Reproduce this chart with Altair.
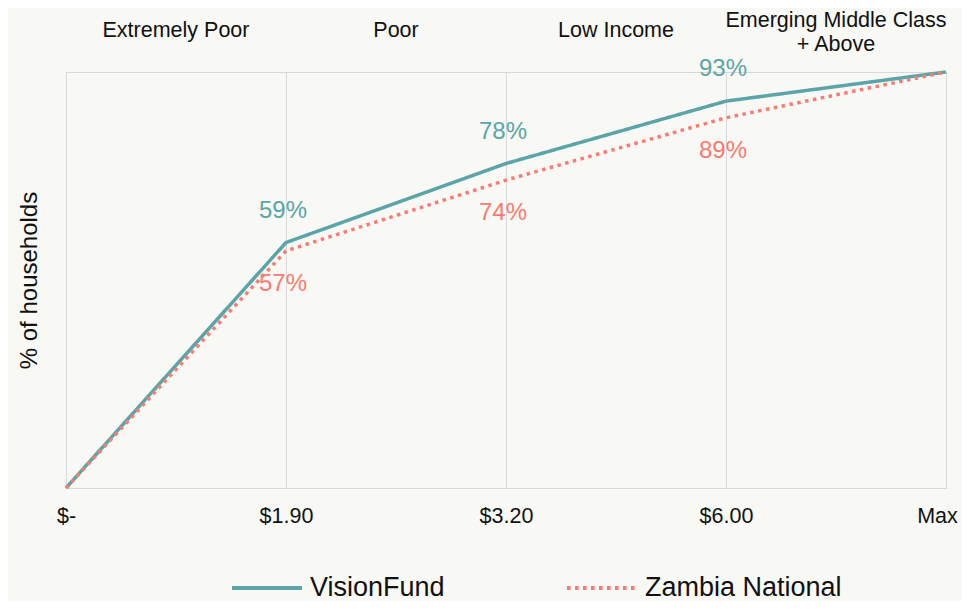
import altair as alt
import pandas as pd

tick_labels = ["$-", "$1.90", "$3.20", "$6.00", "Max"]
visionfund = [0.0, 0.59, 0.78, 0.93, 1.0]
zambia = [0.0, 0.57, 0.74, 0.89, 1.0]
band_labels = ["Extremely Poor", "Poor", "Low Income", "Emerging Middle Class\n+ Above"]
series = ["VisionFund", "Zambia National"]
colors = ["#5ba5a8", "#fa7b72"]

FONT = "Liberation Sans, Arial, Helvetica, sans-serif"

rows = []
for i, lab in enumerate(tick_labels):
    rows.append({"i": i, "series": series[0], "v": visionfund[i]})
for i, lab in enumerate(tick_labels):
    rows.append({"i": i, "series": series[1], "v": zambia[i]})
df = pd.DataFrame(rows)
df["lbl"] = (df["v"] * 100).round().astype(int).astype(str) + "%"
lab_df = df[(df["i"] > 0) & (df["i"] < 4)]

bands = pd.DataFrame({"m": [0.5, 1.5, 2.5, 3.5], "t": band_labels})
bands_single = bands[~bands["t"].str.contains("\n")]
bands_multi = bands[bands["t"].str.contains("\n")]

label_expr = "[" + ",".join("'" + t + "'" for t in tick_labels) + "][datum.value]"

xscale = alt.Scale(domain=[0, 4], nice=False, zero=False)
yscale = alt.Scale(domain=[0, 1], nice=False)
cscale = alt.Scale(domain=series, range=colors)
dscale = alt.Scale(domain=series, range=[[1, 0], [3.5, 4.5]])

x = alt.X("i:Q", scale=xscale, axis=alt.Axis(
    values=[0, 1, 2, 3, 4], labelExpr=label_expr, title=None, grid=True,
    gridColor="#d9d9d9", domainColor="#d9d9d9", ticks=False, labelPadding=17,
    labelFontSize=21.5, labelColor="#111111", labelFont=FONT, labelFlush=False,
    labelOffset={"condition": {"test": "datum.value == 4", "value": -9}, "value": 0}))
y = alt.Y("v:Q", scale=yscale, axis=alt.Axis(
    labels=False, ticks=False, grid=False, domain=False, title="% of households",
    titleFontSize=24, titleFontWeight="normal", titleFont=FONT, titleColor="#111111",
    titlePadding=25))

legend = alt.Legend(
    title=None, orient="none", legendX=164, legendY=479, direction="horizontal",
    symbolType="stroke", symbolSize=4900, symbolStrokeWidth=4, labelFontSize=27,
    labelFont=FONT, labelColor="#111111", columnPadding=114, labelOffset=6,
    labelLimit=500)

lines = alt.Chart(df).mark_line(strokeWidth=3.5, strokeCap="butt").encode(
    x=x, y=y,
    color=alt.Color("series:N", scale=cscale, sort=series, legend=legend),
    strokeDash=alt.StrokeDash("series:N", scale=dscale, sort=series, legend=legend),
    order=alt.Order("i:Q"),
)

vf_text = alt.Chart(lab_df[lab_df["series"] == series[0]]).mark_text(
    dy=-32, dx=-3, fontSize=24, font=FONT, color=colors[0]).encode(
    x=alt.X("i:Q", scale=xscale), y=alt.Y("v:Q", scale=yscale), text="lbl:N")
zm_text = alt.Chart(lab_df[lab_df["series"] == series[1]]).mark_text(
    dy=33, dx=-3, fontSize=24, font=FONT, color=colors[1]).encode(
    x=alt.X("i:Q", scale=xscale), y=alt.Y("v:Q", scale=yscale), text="lbl:N")

band_text1 = alt.Chart(bands_single).mark_text(
    fontSize=21.5, font=FONT, color="#111111", baseline="middle").encode(
    x=alt.X("m:Q", scale=xscale), y=alt.value(-41), text="t:N")
band_text2 = alt.Chart(bands_multi).mark_text(
    fontSize=21.5, font=FONT, color="#111111", lineBreak="\n", baseline="middle",
    lineHeight=24).encode(
    x=alt.X("m:Q", scale=xscale), y=alt.value(-51), text="t:N")

chart = alt.layer(lines, vf_text, zm_text, band_text1, band_text2).properties(
    width=880, height=416,
    background="#f8f8f4",
    padding={"left": 58, "top": 64, "right": 16, "bottom": 113},
    autosize=alt.AutoSizeParams(type="none"),
).configure_view(stroke="#d9d9d9", strokeWidth=1)

chart.save("out.html", embed_options={"renderer": "svg", "actions": False})
